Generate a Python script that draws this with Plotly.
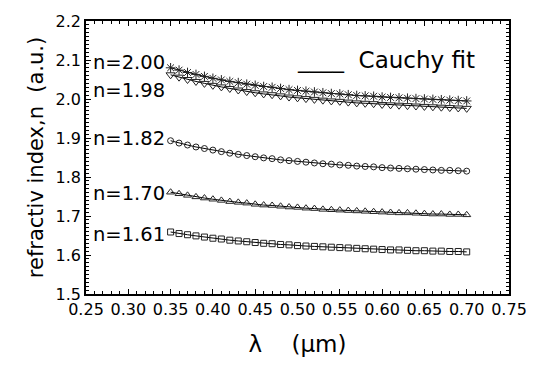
import plotly.graph_objects as go

wavelength = [0.35, 0.36, 0.37, 0.38, 0.39, 0.40, 0.41, 0.42, 0.43, 0.44, 0.45, 0.46,
              0.47, 0.48, 0.49, 0.50, 0.51, 0.52, 0.53, 0.54, 0.55, 0.56, 0.57, 0.58,
              0.59, 0.60, 0.61, 0.62, 0.63, 0.64, 0.65, 0.66, 0.67, 0.68, 0.69, 0.70]

n_200 = [2.080, 2.074, 2.068, 2.063, 2.058, 2.053, 2.049, 2.045, 2.042, 2.038, 2.035, 2.032,
         2.030, 2.027, 2.024, 2.022, 2.020, 2.018, 2.016, 2.014, 2.013, 2.011, 2.009, 2.008,
         2.007, 2.005, 2.004, 2.003, 2.002, 2.001, 2.000, 1.999, 1.998, 1.997, 1.996, 1.995]

n_198 = [2.062, 2.056, 2.050, 2.045, 2.040, 2.035, 2.031, 2.027, 2.023, 2.019, 2.016, 2.013,
         2.011, 2.008, 2.005, 2.003, 2.001, 1.999, 1.997, 1.995, 1.994, 1.992, 1.990, 1.989,
         1.988, 1.986, 1.985, 1.984, 1.983, 1.982, 1.981, 1.980, 1.979, 1.978, 1.977, 1.976]

n_182 = [1.893, 1.887, 1.882, 1.877, 1.873, 1.869, 1.865, 1.861, 1.858, 1.855, 1.852, 1.849,
         1.847, 1.844, 1.842, 1.840, 1.838, 1.836, 1.834, 1.833, 1.831, 1.830, 1.828, 1.827,
         1.826, 1.824, 1.823, 1.822, 1.821, 1.820, 1.819, 1.818, 1.817, 1.817, 1.816, 1.815]

n_170 = [1.761, 1.757, 1.753, 1.749, 1.746, 1.743, 1.740, 1.737, 1.735, 1.733, 1.730, 1.728,
         1.727, 1.725, 1.723, 1.722, 1.720, 1.719, 1.717, 1.716, 1.715, 1.714, 1.713, 1.712,
         1.711, 1.710, 1.709, 1.708, 1.708, 1.707, 1.706, 1.705, 1.705, 1.704, 1.704, 1.703]

n_161 = [1.659, 1.655, 1.652, 1.649, 1.646, 1.643, 1.641, 1.638, 1.636, 1.634, 1.632, 1.630,
         1.629, 1.627, 1.626, 1.624, 1.623, 1.622, 1.621, 1.620, 1.619, 1.618, 1.617, 1.616,
         1.615, 1.614, 1.613, 1.613, 1.612, 1.611, 1.611, 1.610, 1.610, 1.609, 1.609, 1.608]

series = [n_200, n_198, n_182, n_170, n_161]
symbols = ["asterisk-open", "triangle-down-open", "circle-open", "triangle-up-open", "square-open"]
sizes = [8, 8, 6, 7, 6]

labels = ["n=2.00", "n=1.98", "n=1.82", "n=1.70", "n=1.61"]
label_y = [2.0925, 2.0225, 1.8975, 1.7575, 1.6525]

x_ticks = [0.25, 0.30, 0.35, 0.40, 0.45, 0.50, 0.55, 0.60, 0.65, 0.70, 0.75]
y_ticks = [1.5, 1.6, 1.7, 1.8, 1.9, 2.0, 2.1, 2.2]

FONT = "DejaVu Sans"

fig = go.Figure()
for ys, sym, sz in zip(series, symbols, sizes):
    fig.add_trace(go.Scatter(
        x=wavelength, y=ys, mode="lines+markers",
        line=dict(color="#000000", width=1),
        marker=dict(symbol=sym, size=sz, color="#222222", line=dict(width=1, color="#222222")),
        showlegend=False,
    ))

for txt, yv in zip(labels, label_y):
    fig.add_annotation(x=0.2562, y=yv, text=txt, showarrow=False, xanchor="left", yanchor="middle",
                       font=dict(family=FONT, size=19.5, color="#000000"))

fig.add_annotation(x=0.6045, y=2.1, text="____  Cauchy fit", showarrow=False,
                   xanchor="center", yanchor="middle", font=dict(family=FONT, size=23, color="#000000"))

axis_common = dict(
    showline=True, linecolor="#000000", linewidth=1.5, mirror="allticks",
    ticks="inside", ticklen=5, tickwidth=1, tickcolor="#000000",
    showgrid=False, zeroline=False,
    tickfont=dict(family=FONT, size=16, color="#000000"),
)

fig.update_xaxes(
    range=[0.25, 0.75], tickvals=x_ticks, ticktext=["%.2f" % v for v in x_ticks],
    minor=dict(dtick=0.01, tick0=0.25, ticks="inside", ticklen=3, tickcolor="#000000"),
    title=dict(text="λ    (µm)", font=dict(family=FONT, size=23, color="#000000"), standoff=18),
    **axis_common,
)
fig.update_yaxes(
    range=[1.5, 2.2], tickvals=y_ticks, ticktext=["%.1f" % v for v in y_ticks],
    minor=dict(dtick=0.01, tick0=1.5, ticks="inside", ticklen=3, tickcolor="#000000"),
    title=dict(text="refractiv index,n  (a.u.)", font=dict(family=FONT, size=21, color="#000000"), standoff=6),
    **axis_common,
)

fig.update_layout(
    width=539, height=365,
    margin=dict(l=86, r=19, t=16, b=69),
    paper_bgcolor="#ffffff", plot_bgcolor="#ffffff",
)

fig.write_html("out.html")
